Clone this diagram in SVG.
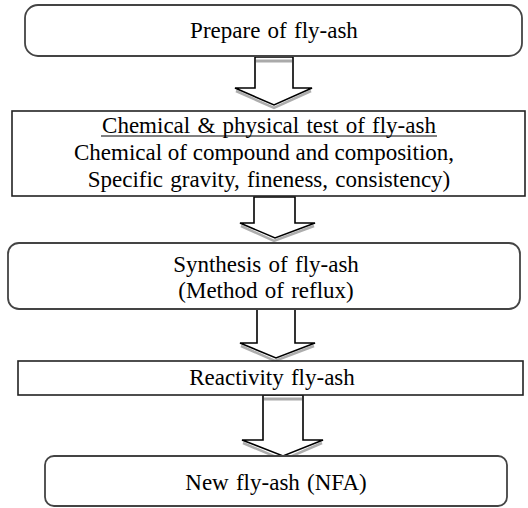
<svg xmlns="http://www.w3.org/2000/svg" width="528" height="508" viewBox="0 0 528 508">
<style>
.box{fill:#fff;stroke:#222;stroke-width:1.6}
.rbox{fill:#fff;stroke:#444;stroke-width:1.8}
text{font-family:'Liberation Serif','Times New Roman',serif;font-size:23px;fill:#000;text-anchor:middle;word-spacing:1.5px}
.arr{fill:#fff;stroke:#000;stroke-width:1.6;stroke-linejoin:miter}
.sh{fill:none;stroke:#999;stroke-width:2.5;opacity:0.8}
</style>
<rect width="528" height="508" fill="#fff"/>
<g id="connectors">
  <g id="a1">
    <polyline class="sh" points="236,91 274,108 311,91"/>
    <polygon class="arr" points="255,57 293,57 293,88 312,88 274,105 235,88 255,88"/>
    <line x1="256" y1="61" x2="292" y2="61" stroke="#aaa" stroke-width="3"/>
  </g>
  <g id="a2">
    <polyline class="sh" points="241,226 274,241 314,226"/>
    <polygon class="arr" points="254,197 295,197 295,223 315,223 275,238 240,223 254,223"/>
  </g>
  <g id="a3">
    <polyline class="sh" points="241,346 275,361 314,346"/>
    <polygon class="arr" points="257,309 295,309 295,343 315,343 276,358 240,343 257,343"/>
  </g>
  <g id="a4">
    <polyline class="sh" points="243,443 283,460 322,443"/>
    <polygon class="arr" points="263,395 303,395 303,440 323,440 283,456 242,440 263,440"/>
    <line x1="264" y1="399" x2="302" y2="399" stroke="#aaa" stroke-width="3"/>
  </g>
</g>
<g id="n1">
  <rect class="rbox" x="25" y="5" width="497" height="51" rx="13"/>
  <text x="274" y="38">Prepare of fly-ash</text>
</g>
<g id="n2">
  <rect class="box" x="12" y="111" width="513" height="85"/>
  <text x="269" y="133">Chemical &amp; physical test of fly-ash</text>
  <line x1="101" y1="136" x2="437" y2="136" stroke="#000" stroke-width="1"/>
  <text x="264" y="160" style="word-spacing:0">Chemical of compound and composition,</text>
  <text x="269" y="187">Specific gravity, fineness, consistency)</text>
</g>
<g id="n3">
  <rect class="rbox" x="8" y="243" width="512" height="66" rx="11"/>
  <text x="266" y="272">Synthesis of fly-ash</text>
  <text x="266" y="298">(Method of reflux)</text>
</g>
<g id="n4">
  <rect class="box" x="18" y="361" width="505" height="34"/>
  <text x="272" y="385">Reactivity fly-ash</text>
</g>
<g id="n5">
  <rect class="rbox" x="45" y="456" width="462" height="50" rx="9"/>
  <text x="276" y="490">New fly-ash (NFA)</text>
</g>
</svg>
